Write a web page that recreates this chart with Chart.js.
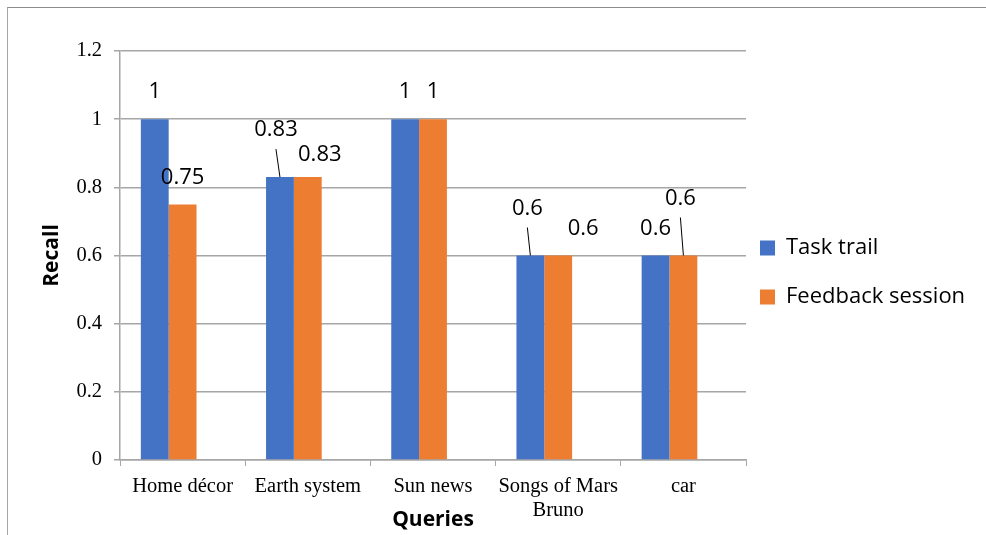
<!DOCTYPE html>
<html>
<head>
<meta charset="utf-8">
<script src="https://cdn.jsdelivr.net/npm/chart.js@4.4.0/dist/chart.umd.min.js"></script>
<style>
  body { margin: 0; background: #fff; }
  #wrap { position: relative; width: 986px; height: 535px; overflow: hidden; }
  #frame { position: absolute; left: 7px; top: 7px; width: 990px; height: 540px; border-top: 1.5px solid #8c8c8c; border-left: 1.5px solid #a6a6a6; }
  canvas { position: absolute; left: 0; top: 0; }
</style>
</head>
<body>
<div id="wrap">
  <div id="frame"></div>
  <canvas id="recallChart" width="986" height="535"></canvas>
</div>
<script>
const queries = ['Home décor', 'Earth system', 'Sun news', ['Songs of Mars', 'Bruno'], 'car'];
const taskTrail = [1, 0.83, 1, 0.6, 0.6];
const feedbackSession = [0.75, 0.83, 1, 0.6, 0.6];
const emptySeries = [null, null, null, null, null];

// label offset from the top of its bar in px, third item = draw a leader line
const taskLabelPos = [[0, -27], [-4, -47, true], [0, -27], [-3, -47, true], [0, -27]];
const feedbackLabelPos = [[0, -27], [12, -22], [0, -27], [25, -27], [-3, -57, true]];

const gridGray = '#a6a6a6';

const valueLabels = {
    id: 'valueLabels',
    afterDatasetsDraw(chart) {
        const ctx = chart.ctx;
        const positions = [taskLabelPos, feedbackLabelPos];
        ctx.save();
        ctx.font = '22px "Open Sans"';
        ctx.fillStyle = '#000';
        ctx.strokeStyle = '#000';
        ctx.lineWidth = 1;
        ctx.textAlign = 'center';
        ctx.textBaseline = 'middle';
        positions.forEach((pos, i) => {
            const meta = chart.getDatasetMeta(i);
            meta.data.forEach((bar, j) => {
                const [dx, dy, leader] = pos[j];
                const tx = bar.x + dx;
                const ty = bar.y + dy;
                ctx.fillText(String(chart.data.datasets[i].data[j]), tx, ty);
                if (leader) {
                    ctx.beginPath();
                    ctx.moveTo(tx, ty + 19);
                    ctx.lineTo(bar.x, bar.y);
                    ctx.stroke();
                }
            });
        });
        ctx.restore();
    }
};

// put the legend where the original has it
const legendPlacer = {
    id: 'legendPlacer',
    afterLayout(chart) {
        const l = chart.legend;
        const pad = l.options.labels.padding;
        l.left = 760 - pad;
        l.right = l.left + l.width;
        l.top += 17;
        l.bottom += 17;
    }
};

const ctx = document.getElementById('recallChart').getContext('2d');
new Chart(ctx, {
    type: 'bar',
    data: {
        labels: queries,
        datasets: [
            { label: 'Task trail', data: taskTrail, backgroundColor: '#4472C4' },
            { label: 'Feedback session', data: feedbackSession, backgroundColor: '#ED7D31' },
            { label: '', data: emptySeries, backgroundColor: 'rgba(0,0,0,0)' }
        ]
    },
    options: {
        responsive: false,
        animation: false,
        datasets: { bar: { categoryPercentage: 0.667, barPercentage: 1 } },
        layout: { padding: { top: 51, left: 0, right: 0, bottom: 0 } },
        plugins: {
            legend: {
                position: 'right',
                fullSize: false,
                maxWidth: 240,
                labels: {
                    boxWidth: 15,
                    boxHeight: 15,
                    padding: 27,
                    color: '#000',
                    font: { family: 'Open Sans', size: 22 },
                    filter: item => item.text !== ''
                }
            },
            tooltip: { enabled: false }
        },
        scales: {
            x: {
                grid: { drawOnChartArea: false, color: gridGray, tickLength: 6, offset: true },
                border: { color: gridGray, width: 1.5 },
                ticks: {
                    color: '#000',
                    font: { family: 'Liberation Serif', size: 20.5 },
                    padding: 8,
                    maxRotation: 0,
                    autoSkip: false
                },
                title: {
                    display: true,
                    text: 'Queries',
                    color: '#000',
                    font: { family: 'Open Sans', size: 21, weight: 'bold' },
                    padding: { top: 0, bottom: 2 }
                },
                afterFit(scale) { scale.height = 75; }
            },
            y: {
                min: 0,
                max: 1.2,
                ticks: {
                    stepSize: 0.2,
                    color: '#000',
                    font: { family: 'Liberation Serif', size: 20.5 },
                    padding: 12,
                    callback: v => String(Number(v.toFixed(1)))
                },
                grid: { color: gridGray, lineWidth: 1.5, tickLength: 6 },
                border: { color: gridGray, width: 1.5 },
                title: {
                    display: true,
                    text: 'Recall',
                    color: '#000',
                    font: { family: 'Open Sans', size: 21, weight: 'bold' },
                    padding: { top: 39, bottom: 0 }
                },
                afterFit(scale) { scale.width = 120; }
            }
        }
    },
    plugins: [valueLabels, legendPlacer]
});
</script>
</body>
</html>
